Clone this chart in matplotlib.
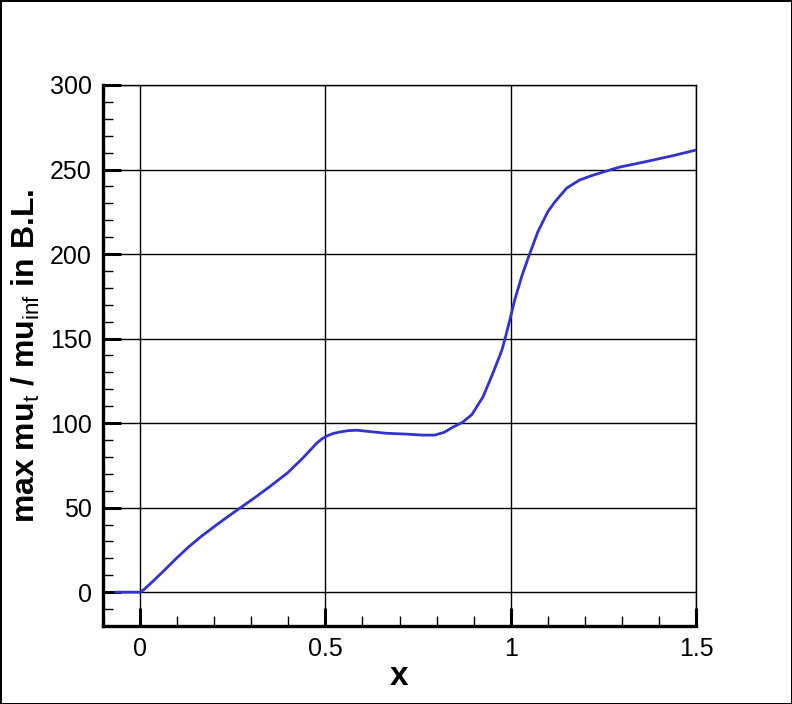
import matplotlib
matplotlib.use('Agg')
import matplotlib.pyplot as plt
from matplotlib.ticker import MultipleLocator

plt.rcParams['font.family'] = ['Liberation Sans', 'DejaVu Sans']
plt.rcParams['mathtext.fontset'] = 'custom'
plt.rcParams['mathtext.rm'] = 'Liberation Sans'

# max turbulent viscosity ratio in the boundary layer
x_vals = [-0.065, -0.03, 0.0, 0.01, 0.03, 0.06, 0.095, 0.13, 0.165, 0.205,
          0.24, 0.273, 0.31, 0.349, 0.398, 0.438, 0.476, 0.49, 0.503,
          0.52, 0.538, 0.56, 0.584, 0.62, 0.664, 0.718, 0.763, 0.795,
          0.82, 0.844, 0.870, 0.895, 0.925, 0.951, 0.976, 0.986, 0.997,
          1.011, 1.030, 1.051, 1.073, 1.100, 1.119, 1.151, 1.186, 1.220,
          1.260, 1.295, 1.340, 1.376, 1.44, 1.50]
mu_ratio = [0.0, 0.0, 0.0, 1.5, 5.5, 11.8, 19.4, 26.6, 33.0, 39.6,
            45.2, 50.3, 56.0, 62.3, 70.6, 79.1, 88.0, 90.6, 92.3,
            93.8, 94.7, 95.5, 95.8, 95.0, 94.0, 93.5, 92.9, 92.9,
            94.5, 97.6, 100.5, 105.0, 115.4, 129.0, 143.0, 151.0, 160.5,
            173.0, 187.0, 200.0, 213.0, 225.0, 230.8, 239.0, 243.8, 246.5,
            249.2, 251.5, 253.5, 255.2, 258.3, 261.5]

x_ticks = [0, 0.5, 1, 1.5]
x_ticklabels = ['0', '0.5', '1', '1.5']
y_ticks = [0, 50, 100, 150, 200, 250, 300]

fig = plt.figure(figsize=(7.92, 7.04), dpi=100)
fig.patch.set_edgecolor('black')
fig.patch.set_linewidth(2)
ax = fig.add_axes([0.1301, 0.1108, 0.7487, 0.7685])

ax.plot(x_vals, mu_ratio, color='#3232d0', linewidth=2.0, zorder=3)

ax.set_xlim(-0.1, 1.5)
ax.set_ylim(-20, 300)
ax.set_xticks(x_ticks)
ax.set_xticklabels(x_ticklabels)
ax.set_yticks(y_ticks)
ax.xaxis.set_minor_locator(MultipleLocator(0.1))
ax.yaxis.set_minor_locator(MultipleLocator(10))

ax.grid(True, which='major', color='black', linewidth=1.0)
ax.tick_params(which='major', direction='in', length=13, width=2.2,
               labelsize=18, top=False, right=False)
ax.tick_params(axis='y', which='major', pad=8)
ax.tick_params(axis='x', which='major', pad=8)
ax.tick_params(which='minor', direction='in', length=7, width=1,
               top=False, right=False)

for side in ['left', 'bottom']:
    ax.spines[side].set_linewidth(2.4)
for side in ['top', 'right']:
    ax.spines[side].set_linewidth(1.0)

ax.set_xlabel('x', fontsize=24, fontweight='bold', labelpad=0)
ax.set_ylabel(r'max mu$_{\rm t}$ / mu$_{\rm inf}$ in B.L.', fontsize=23,
              fontweight='bold', labelpad=6)

fig.savefig('out.png', dpi=100, edgecolor='black')
